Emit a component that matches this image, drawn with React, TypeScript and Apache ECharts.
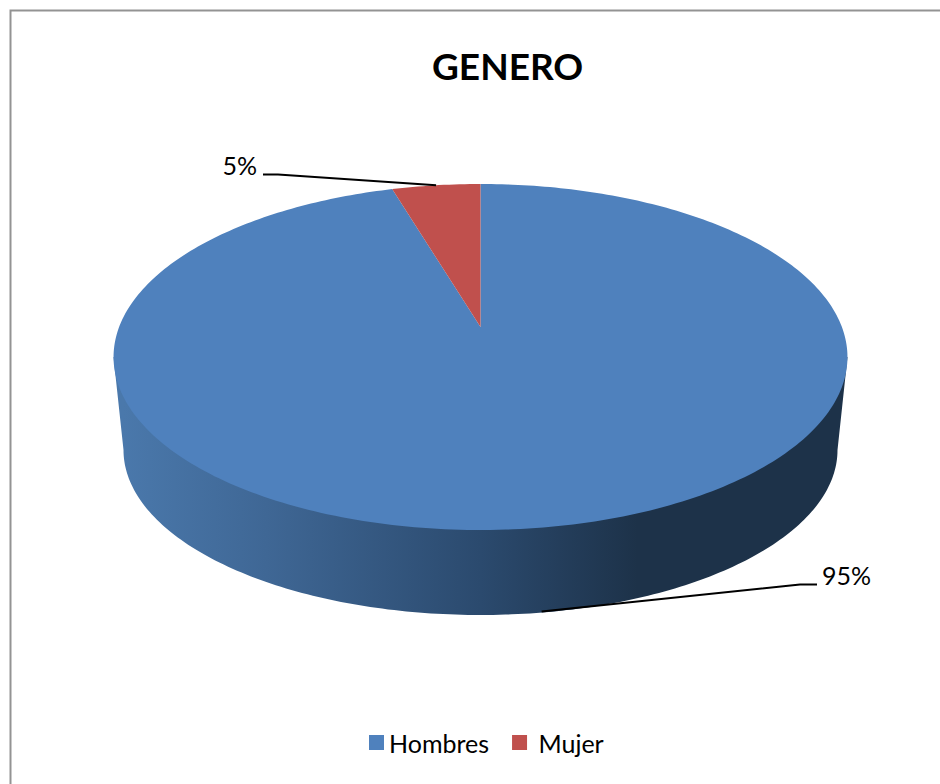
import React, { useEffect, useRef } from "react";
import * as echarts from "echarts";

const titleText = "GENERO";
const categories = ["Hombres", "Mujer"];
const shares = [95.4, 4.6];
const colors = ["#4f81bd", "#c0504d"];
const wallStops = [
  { offset: 0, color: "#4a78ab" },
  { offset: 0.2, color: "#3f6795" },
  { offset: 0.5, color: "#2b4a6e" },
  { offset: 0.72, color: "#1d3249" },
  { offset: 1, color: "#1d3249" },
];

const CX = 480.5;
const APEX_Y = 327;
const P = 0.1734;
const A = 361.4;
const B = 167.8;
const BOTTOM = { cy: 450, rx: 357, ry: 165 };
const TOP_EDGE = { cy: 357, rx: 367 };
const total = shares.reduce((s, v) => s + v, 0);

function project(theta: number): number[] {
  const d = 1 + P * Math.cos(theta);
  return [CX + (A * Math.sin(theta)) / d, APEX_Y - (B * Math.cos(theta)) / d];
}

function startAngle(i: number): number {
  return (shares.slice(0, i).reduce((s, v) => s + v, 0) / total) * Math.PI * 2;
}

function wallPoints(): number[][] {
  const pts: number[][] = [[CX - TOP_EDGE.rx, TOP_EDGE.cy]];
  for (let k = 0; k <= 180; k++) {
    const t = Math.PI - (k / 180) * Math.PI;
    pts.push([CX + BOTTOM.rx * Math.cos(t), BOTTOM.cy + BOTTOM.ry * Math.sin(t)]);
  }
  pts.push([CX + TOP_EDGE.rx, TOP_EDGE.cy]);
  return pts;
}

const labelLayout = [
  { knee: [800, 584.5], end: [817, 584.5], text: [822, 575], align: "left" },
  { knee: [278, 174.5], end: [263, 174.5], text: [257, 165], align: "right" },
];

function makeRender(i: number) {
  return (_params: any, api: any) => {
    const value = api.value(0);
    const start = startAngle(i);
    const sweep = (value / total) * Math.PI * 2;
    const steps = Math.max(2, Math.ceil(sweep / (Math.PI / 180)));
    const pts: number[][] = [[CX, APEX_Y]];
    for (let k = 0; k <= steps; k++) pts.push(project(start + (sweep * k) / steps));

    const mid = start + sweep / 2;
    const midTop = project(mid);
    const front = Math.cos(mid) < 0;
    let anchor = midTop;
    if (front) {
      const x = CX + ((midTop[0] - CX) * BOTTOM.rx) / TOP_EDGE.rx;
      const u = (x - CX) / BOTTOM.rx;
      anchor = [x, BOTTOM.cy + BOTTOM.ry * Math.sqrt(1 - u * u) - 1];
    }
    const lay = labelLayout[i];
    const children: any[] = [];
    if (front) {
      children.push({
        type: "polygon",
        shape: { points: wallPoints() },
        style: {
          fill: new echarts.graphic.LinearGradient(CX - BOTTOM.rx, 0, CX + BOTTOM.rx, 0, wallStops, true),
        },
      });
    }
    children.push({ type: "polygon", shape: { points: pts }, style: { fill: colors[i] } });
    children.push({
      type: "polyline",
      z2: 10,
      shape: { points: [anchor, lay.knee, lay.end] },
      style: { stroke: "#000000", lineWidth: 2, fill: "none" },
    });
    children.push({
      type: "text",
      z2: 10,
      style: {
        text: Math.round((value / total) * 100) + "%",
        x: lay.text[0],
        y: lay.text[1],
        textAlign: lay.align,
        textVerticalAlign: "middle",
        fontFamily: "Lato",
        fontSize: 25,
        fill: "#000000",
      },
    });
    return { type: "group", children };
  };
}

export default function App() {
  const ref = useRef<HTMLDivElement>(null);
  useEffect(() => {
    const chart = echarts.init(ref.current!, undefined, { renderer: "svg" });
    chart.setOption({
      animation: false,
      backgroundColor: "#ffffff",
      title: {
        text: titleText,
        left: 432,
        top: 47,
        padding: 0,
        textStyle: { fontFamily: "Lato", fontWeight: "bold", fontSize: 37, color: "#000000" },
      },
      legend: {
        data: categories,
        left: 369,
        top: 730,
        padding: 0,
        icon: "rect",
        itemWidth: 15,
        itemHeight: 15,
        itemGap: 23,
        selectedMode: false,
        formatter: (n: string) => (n === "Mujer" ? " " + n : n),
        textStyle: { fontFamily: "Lato", fontSize: 25, color: "#000000", padding: [0, 0, 0, 0] },
      },
      graphic: [
        {
          type: "polyline",
          silent: true,
          shape: { points: [[10.5, 784], [10.5, 10.5], [940, 10.5]] },
          style: { stroke: "#939393", lineWidth: 2, fill: "none" },
        },
      ],
      series: categories.map((name, i) => ({
        type: "custom",
        name,
        coordinateSystem: "none",
        silent: true,
        itemStyle: { color: colors[i] },
        renderItem: makeRender(i),
        data: [[shares[i]]],
      })),
    });
    return () => chart.dispose();
  }, []);
  return (
    <div
      ref={ref}
      style={{ position: "fixed", left: 0, top: 0, width: 940, height: 784, overflow: "hidden" }}
    />
  );
}
